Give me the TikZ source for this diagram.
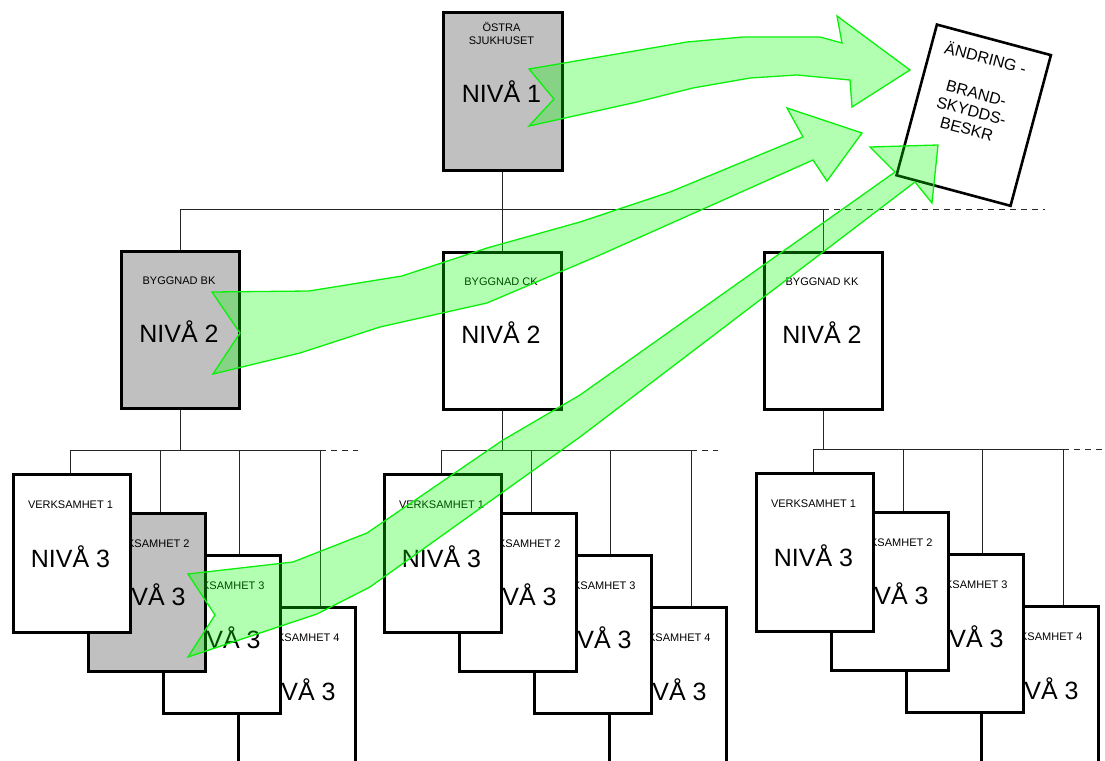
\documentclass[tikz,border=0pt]{standalone}
\usepackage{fontspec}
\setmainfont{Liberation Sans}
\usetikzlibrary{calc}
\definecolor{boxgray}{RGB}{192,192,192}
\definecolor{arrline}{RGB}{10,240,10}
\definecolor{arrfill}{RGB}{0,255,0}
\newcommand{\levelthree}[6]{% #1 prefix, #2 shift x, #3 shift y, #4 style of box 2, #5 parent node, #6 dashed end (local x)
\begin{scope}[shift={(#2,#3)}]
  \coordinate (#1v1) at (70,450);
  \coordinate (#1v2) at (160,450);
  \coordinate (#1v3) at (239,450);
  \coordinate (#1v4) at (320,450);
  \coordinate (#1de) at (#6,450);
  \draw[conn] (#5.south) -- (#5.south |- #1v1);
  \draw[conn] (#1v1) -- (#1v4);
  \draw[dashconn] (#1v4) -- (#1de);
  \node[lthree] (#1b4) at (237,606) {};
  \node[lthree] (#1b3) at (162,554) {};
  \node[lthree,#4] (#1b2) at (87,512) {};
  \node[lthree] (#1b1) at (12,473) {};
  \draw[conn] (#1v1) -- (#1b1.north -| #1v1);
  \draw[conn] (#1v2) -- (#1b2.north -| #1v2);
  \draw[conn] (#1v3) -- (#1b3.north -| #1v3);
  \draw[conn] (#1v4) -- (#1b4.north -| #1v4);
  \node[lthree] (#1c4) at (237,606) {};
  \node[small] (#1s4) at (297,641) {VERKSAMHET 4};
  \node[big] (#1n4) at (296,700) {NIVÅ 3};
  \node[lthree] (#1c3) at (162,554) {};
  \node[small] (#1s3) at (222,589) {VERKSAMHET 3};
  \node[big] (#1n3) at (221,648) {NIVÅ 3};
  \node[lthree,#4] (#1c2) at (87,512) {};
  \node[small] (#1s2) at (147,547) {VERKSAMHET 2};
  \node[big] (#1n2) at (146,605) {NIVÅ 3};
  \node[lthree] (#1c1) at (12,473) {};
  \node[small] (#1s1) at (70.5,508) {VERKSAMHET 1};
  \node[big] (#1n1) at (70.5,567) {NIVÅ 3};
\end{scope}}
\begin{document}
\begin{tikzpicture}[x=1pt,y=-1pt,
  box/.style={draw=black, line width=2.6pt, fill=white, inner sep=0pt, minimum width=118pt, minimum height=157pt, anchor=north west},
  graybox/.style={box, fill=boxgray},
  lthree/.style={box, minimum width=117pt, minimum height=158pt},
  grayfill/.style={fill=boxgray},
  conn/.style={draw=black!85, line width=1pt},
  dashconn/.style={conn, dash pattern=on 6pt off 5pt},
  small/.style={font=\fontsize{11}{13}\selectfont, inner sep=0pt, anchor=base},
  big/.style={font=\fontsize{25}{30}\selectfont, inner sep=0pt, anchor=base},
  doctext/.style={font=\fontsize{16}{18.5}\selectfont, inner sep=0pt, align=center},
  greenarrow/.style={draw=arrline, line width=1.3pt, fill=arrfill, fill opacity=0.3, line join=miter}]
\useasboundingbox (0,0) rectangle (1105,760);
\clip (0,0) rectangle (1105,760);
\fill[white] (0,0) rectangle (1105,760);

% level 1 and 2 boxes
\node[graybox, minimum width=119pt, minimum height=158pt] (top) at (442,11) {};
\node[small, anchor=center, align=center, font=\fontsize{11}{13}\selectfont] (topa) at (501.5,33.5) {ÖSTRA\\SJUKHUSET};
\node[big] (topn) at (501.5,102) {NIVÅ 1};

\node[graybox] (bk) at (120,250) {};
\node[small] (bkl) at (179,284) {BYGGNAD BK};
\node[big] (bkn) at (179,342) {NIVÅ 2};

\node[box] (ck) at (442,251) {};
\node[small] (ckl) at (501,285) {BYGGNAD CK};
\node[big] (ckn) at (501,343) {NIVÅ 2};

\node[box] (kk) at (763,251) {};
\node[small] (kkl) at (822,285) {BYGGNAD KK};
\node[big] (kkn) at (822,343) {NIVÅ 2};

% level 1 bus
\coordinate (b1) at (500,209);
\coordinate (b1end) at (1045,209);
\draw[conn] (top.south) -- (top.south |- b1);
\draw[conn] (bk.north) -- (bk.north |- b1) -- (kk.north |- b1) -- (kk.north);
\draw[conn] (ck.north) -- (ck.north |- b1);
\draw[dashconn] (kk.north |- b1) -- (b1end);

% level 3 groups
\levelthree{ga}{0}{0}{grayfill}{bk}{358}
\levelthree{gb}{371}{0}{}{ck}{347}
\levelthree{gc}{743}{-1}{}{kk}{365}

% tilted document
\begin{scope}[shift={(936,23)}, rotate=-15, transform shape]
  \node[box, minimum width=118pt, minimum height=156pt] (doc) at (0,0) {};
  \node[doctext, anchor=base] (d1) at (57,27) {ÄNDRING -};
  \node[doctext, anchor=center] (d2) at (57,76) {BRAND-\\SKYDDS-\\BESKR};
\end{scope}

% green block arrows
\draw[greenarrow] (529,69) -- (687,42) -- (743,37) -- (820,37) -- (842,43) -- (837,16)
  -- (910,70) -- (852,107) -- (850,80) -- (797,75) -- (750,78) -- (693,88) -- (637,102)
  -- (529,126) -- (554,99) -- cycle;
\draw[greenarrow] (212,292) -- (309,291) -- (402,276) -- (487,248) -- (580,222) -- (670,192)
  -- (803,137) -- (787,108) -- (862,133) -- (827,181) -- (813,160) -- (600,255)
  -- (487,303) -- (380,327) -- (300,353) -- (213,374) -- (240,333) -- cycle;
\draw[greenarrow] (188,574) -- (293,562) -- (367,533) -- (503,440) -- (580,395) -- (895,172)
  -- (870,147) -- (938,145) -- (932,203) -- (915,182) -- (580,437) -- (370,587)
  -- (317,614) -- (188,657) -- (215,615) -- cycle;
\end{tikzpicture}
\end{document}
